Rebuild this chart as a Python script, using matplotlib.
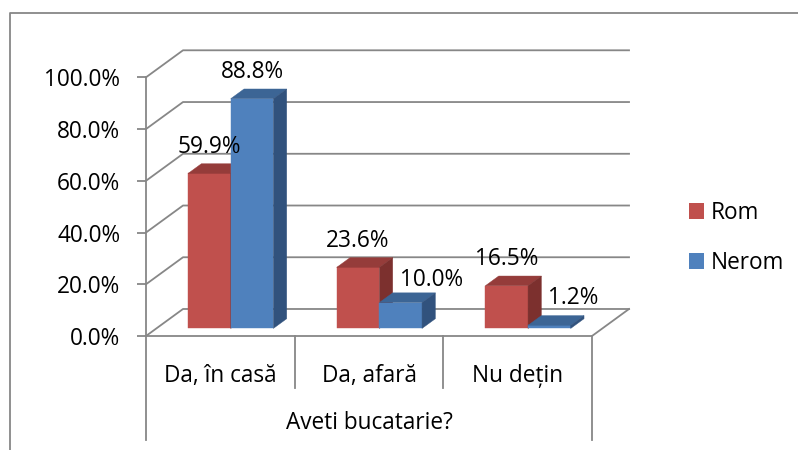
import matplotlib
matplotlib.use('Agg')
import matplotlib.pyplot as plt
from matplotlib.patches import Polygon, Patch
from matplotlib.lines import Line2D
from matplotlib.transforms import ScaledTranslation

categories = ['Da, în casă', 'Da, afară', 'Nu dețin']
series_names = ['Rom', 'Nerom']
rom_values = [59.9, 23.6, 16.5]
nerom_values = [88.8, 10.0, 1.2]
y_ticks = [0, 20, 40, 60, 80, 100]
axis_title = 'Aveti bucatarie?'

FRONT = ['#C0504D', '#4F81BD']
TOP = ['#953C3A', '#3C6595']
SIDE = ['#7C302E', '#31527D']
GRID = '#878787'
FS = 16.3

# fake 3d geometry, data units (x = category, y = percent)
DEPTH_X = 0.249
DEPTH_Y = 10.44
BAR_W = 0.287
BAR_POS = 0.28     # where bars stand inside the floor depth
BAR_DEPTH = 0.36
# nudges (points) of the data labels, like excel moved them
LABEL_DX = [[0, 0, 0], [0, 22, 17]]
LABEL_DY = [[19, 19, 19], [19, 16, 20]]

plt.rcParams['font.family'] = ['Open Sans', 'DejaVu Sans']


def draw_bar(ax, x0, value, k):
    y0 = BAR_POS * DEPTH_Y
    dx, dy = BAR_DEPTH * DEPTH_X, BAR_DEPTH * DEPTH_Y
    x1, y1 = x0 + BAR_W, y0 + value
    faces = [
        ([(x0, y0), (x1, y0), (x1, y1), (x0, y1)], FRONT[k]),
        ([(x0, y1), (x1, y1), (x1 + dx, y1 + dy), (x0 + dx, y1 + dy)], TOP[k]),
        ([(x1, y0), (x1 + dx, y0 + dy), (x1 + dx, y1 + dy), (x1, y1)], SIDE[k]),
    ]
    for pts, col in faces:
        ax.add_patch(Polygon(pts, closed=True, facecolor=col, edgecolor=col,
                             lw=0.3, clip_on=False, zorder=3))
    return (x0 + x1) / 2, y1


def main():
    fig = plt.figure(figsize=(7.98, 4.5), dpi=100)
    ax = fig.add_axes([146 / 798, 114 / 450, 446 / 798, 258.7 / 450])
    n = len(categories)
    ax.set_xlim(0, n)
    ax.set_ylim(0, 100)
    for s in ax.spines.values():
        s.set_visible(False)

    # walls + floor
    for t in y_ticks:
        ax.plot([0, DEPTH_X, n + DEPTH_X], [t, t + DEPTH_Y, t + DEPTH_Y],
                color=GRID, lw=1.3, clip_on=False, zorder=1)
    ax.plot([0, n, n + DEPTH_X], [0, 0, DEPTH_Y], color=GRID, lw=1.3, clip_on=False, zorder=1)
    ax.plot([0, 0], [0, 100], color=GRID, lw=1.3, clip_on=False, zorder=1)

    # category boxes under the floor
    xt = ax.get_xaxis_transform()
    for i in range(n + 1):
        bottom = -0.402 if i in (0, n) else -0.201
        ax.plot([i, i], [0, bottom], color=GRID, lw=1.3, transform=xt, clip_on=False)

    ax.set_yticks(y_ticks, [f'{t:.1f}%' for t in y_ticks])
    ax.tick_params(axis='y', length=6.5, width=1.3, color=GRID, pad=12, labelsize=FS)
    down = ScaledTranslation(0, -3 / 100, fig.dpi_scale_trans)
    for lbl in ax.get_yticklabels():
        lbl.set_verticalalignment('center')
        lbl.set_transform(lbl.get_transform() + down)
    ax.set_xticks([i + 0.5 for i in range(n)], categories)
    ax.tick_params(axis='x', length=0, pad=20, labelsize=FS)
    ax.text(n / 2, -0.335, axis_title, transform=xt, ha='center', va='center', fontsize=FS)

    shift = BAR_POS * DEPTH_X
    for k, vals in enumerate([rom_values, nerom_values]):
        for i, v in enumerate(vals):
            x0 = i + 0.5 + shift - BAR_W + k * BAR_W
            cx, top = draw_bar(ax, x0, v, k)
            ax.annotate(f'{v:.1f}%', (cx, top), xytext=(LABEL_DX[k][i], LABEL_DY[k][i]),
                        textcoords='offset points', ha='center', va='center',
                        fontsize=FS, zorder=5, annotation_clip=False)

    handles = [Patch(facecolor=FRONT[k], label=series_names[k]) for k in range(2)]
    fig.legend(handles=handles, loc='center left', bbox_to_anchor=(689 / 798, 0.471),
               frameon=False, handlelength=0.66, handleheight=0.66, handletextpad=0.3,
               labelspacing=1.15, borderaxespad=0, borderpad=0, fontsize=FS)

    # chart area border (only top and left show in the crop)
    fig.add_artist(Line2D([9.5 / 798, 9.5 / 798, 1], [0, 1 - 12.7 / 450, 1 - 12.7 / 450],
                          transform=fig.transFigure, color=GRID, lw=1.3))

    fig.savefig('out.png', dpi=100)


if __name__ == '__main__':
    main()
